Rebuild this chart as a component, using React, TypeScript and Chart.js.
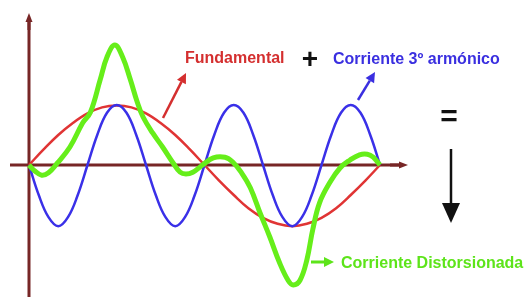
import React, { useEffect, useRef } from "react";
import { Chart, registerables } from "chart.js";

Chart.register(...registerables);

// Angle (degrees) of the fundamental period
const redAngles = [0, 15, 30, 45, 60, 75, 90, 105, 120, 135, 150, 165, 180, 195, 210, 225, 240, 255, 270, 285, 300, 315, 330, 345, 360];
const redValues = [0, 0.26, 0.5, 0.7, 0.86, 0.96, 0.99, 0.96, 0.86, 0.7, 0.5, 0.26, 0, -0.26, -0.5, -0.72, -0.88, -0.98, -1.02, -0.98, -0.88, -0.72, -0.5, -0.26, 0];

const blueAngles = [0, 10, 20, 30, 40, 50, 60, 70, 80, 90, 100, 110, 120, 130, 140, 150, 160, 170, 180, 190, 200, 210, 220, 230, 240, 250, 260, 270, 280, 290, 300, 310, 320, 330, 340, 350, 360];
const blueValues = [0, -0.5, -0.87, -1.02, -0.87, -0.5, 0, 0.5, 0.87, 1.0, 0.87, 0.5, 0, -0.5, -0.87, -1.02, -0.87, -0.5, 0, 0.5, 0.87, 1.0, 0.87, 0.5, 0, -0.5, -0.87, -1.02, -0.87, -0.5, 0, 0.5, 0.87, 1.0, 0.87, 0.5, 0];

const greenAngles = [0, 6, 13, 20, 29, 42, 55, 63, 73, 80, 88, 96, 104, 111, 117, 127, 137, 148, 155, 161, 168, 178, 189, 201, 209, 218, 227, 237, 247, 257, 266, 271, 278, 285, 291, 298, 309, 319, 329, 339, 347, 353, 360];
const greenValues = [0, -0.1, -0.17, -0.13, 0.03, 0.3, 0.7, 0.88, 1.42, 1.8, 2.0, 1.8, 1.42, 1.05, 0.8, 0.53, 0.3, 0.03, -0.12, -0.15, -0.12, 0, 0.12, 0.13, 0.05, -0.13, -0.38, -0.8, -1.2, -1.63, -1.93, -2.0, -1.92, -1.58, -1.08, -0.63, -0.28, -0.05, 0.08, 0.17, 0.18, 0.13, 0];

const labelFundamental = "Fundamental";
const labelHarmonic = "Corriente 3º armónico";
const labelDistorted = "Corriente Distorsionada";

const pts = (xs: number[], ys: number[]) => xs.map((x, i) => ({ x, y: ys[i] }));

function arrow(ctx: CanvasRenderingContext2D, x1: number, y1: number, x2: number, y2: number, color: string, lw: number, head: number, headW: number) {
  const a = Math.atan2(y2 - y1, x2 - x1);
  const bx = x2 - head * Math.cos(a);
  const by = y2 - head * Math.sin(a);
  ctx.save();
  ctx.strokeStyle = color;
  ctx.fillStyle = color;
  ctx.lineWidth = lw;
  ctx.beginPath();
  ctx.moveTo(x1, y1);
  ctx.lineTo(bx, by);
  ctx.stroke();
  ctx.beginPath();
  ctx.moveTo(x2, y2);
  ctx.lineTo(bx + headW * Math.sin(a), by - headW * Math.cos(a));
  ctx.lineTo(bx - headW * Math.sin(a), by + headW * Math.cos(a));
  ctx.closePath();
  ctx.fill();
  ctx.restore();
}

const axesPlugin = {
  id: "customAxes",
  beforeDatasetsDraw(chart: any) {
    const { ctx } = chart;
    const xs = chart.scales.x;
    const ys = chart.scales.y;
    const ox = xs.getPixelForValue(0);
    const oy = ys.getPixelForValue(0);
    const axisColor = "#772626";
    ctx.save();
    ctx.strokeStyle = axisColor;
    ctx.lineWidth = 3;
    ctx.beginPath();
    ctx.moveTo(ox, chart.height);
    ctx.lineTo(ox, 22);
    ctx.stroke();
    arrow(ctx, ox, 30, ox, 13, axisColor, 3, 9, 3.5);
    ctx.lineWidth = 3;
    ctx.beginPath();
    ctx.moveTo(10, oy);
    ctx.lineTo(400, oy);
    ctx.stroke();
    arrow(ctx, 390, oy, 408, oy, axisColor, 3, 9, 3.5);
    ctx.restore();
  },
  afterDraw(chart: any) {
    const { ctx } = chart;
    ctx.save();
    ctx.textBaseline = "alphabetic";
    ctx.textAlign = "left";
    ctx.font = "bold 16px 'Liberation Sans', Arial, sans-serif";
    ctx.fillStyle = "#d42f2f";
    ctx.fillText(labelFundamental, 185, 63);
    ctx.fillStyle = "#3a2fe0";
    ctx.fillText(labelHarmonic, 333, 64);
    ctx.fillStyle = "#5de41a";
    ctx.fillText(labelDistorted, 341, 268);
    ctx.fillStyle = "#111111";
    ctx.textAlign = "center";
    ctx.textBaseline = "middle";
    ctx.font = "bold 28px 'Liberation Sans', Arial, sans-serif";
    ctx.fillText("+", 310, 60);
    ctx.font = "bold 30px 'Liberation Sans', Arial, sans-serif";
    ctx.fillText("=", 449, 118);
    arrow(ctx, 163, 118, 186, 73, "#d42f2f", 2.5, 10, 5);
    arrow(ctx, 358, 100, 375, 72, "#3a2fe0", 2.5, 10, 5);
    arrow(ctx, 311, 262, 334, 262, "#5de41a", 3, 10, 5);
    arrow(ctx, 451, 149, 451, 223, "#111111", 2.5, 20, 9);
    ctx.restore();
  },
};

export default function App() {
  const ref = useRef<HTMLCanvasElement | null>(null);
  useEffect(() => {
    if (!ref.current) return;
    const chart = new Chart(ref.current, {
      type: "line",
      data: {
        datasets: [
          { label: "Fundamental", data: pts(redAngles, redValues), borderColor: "#e03434", borderWidth: 2.5, pointRadius: 0, tension: 0.4, order: 3 },
          { label: "3º armónico", data: pts(blueAngles, blueValues), borderColor: "#3a30e8", borderWidth: 2.5, pointRadius: 0, tension: 0.4, order: 2 },
          { label: "Distorsionada", data: pts(greenAngles, greenValues), borderColor: "#66ee1a", borderWidth: 5, pointRadius: 0, tension: 0.4, order: 1 },
        ],
      },
      options: {
        animation: false,
        responsive: false,
        maintainAspectRatio: false,
        layout: { padding: 0 },
        plugins: { legend: { display: false }, tooltip: { enabled: false } },
        scales: {
          x: { type: "linear", display: false, min: -29.74, max: 508.72 },
          y: { type: "linear", display: false, min: -2.2, max: 2.75 },
        },
      },
      plugins: [axesPlugin],
    });
    return () => chart.destroy();
  }, []);
  return (
    <div style={{ position: "fixed", left: 0, top: 0, width: 525, height: 297, background: "#fff" }}>
      <canvas ref={ref} width={525} height={297} style={{ display: "block" }} />
    </div>
  );
}
